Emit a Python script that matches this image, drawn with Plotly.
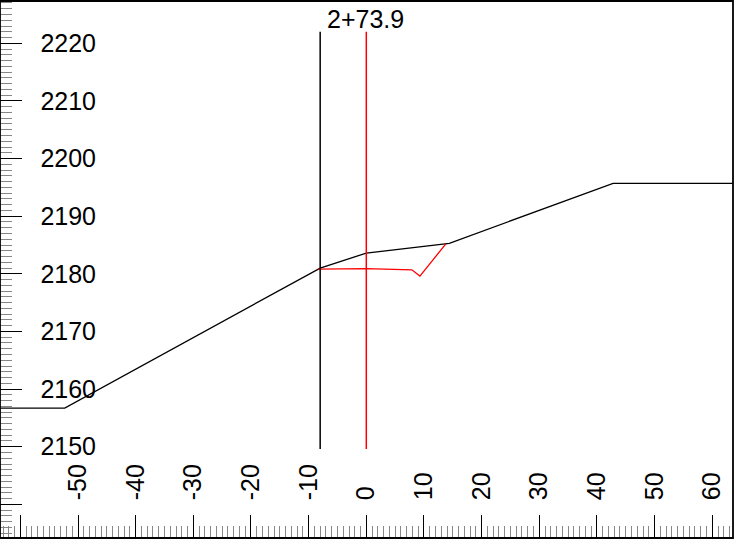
import plotly.graph_objects as go

# ---- data ----
ground_x = [-63.6, -52.3, -8.0, 0.0, 14.4, 42.8, 63.7]
ground_y = [2156.7, 2156.7, 2181.0, 2183.6, 2185.3, 2195.7, 2195.7]

design_x = [-8.4, 0.0, 7.9, 9.3, 13.8]
design_y = [2180.8, 2180.9, 2180.7, 2179.6, 2185.2]

left_marker_x = [-8.0, -8.0]
center_x = [0.0, 0.0]
marker_y = [2149.6, 2222.0]

station_label = "2+73.9"

x_tick_vals = [-60, -50, -40, -30, -20, -10, 0, 10, 20, 30, 40, 50, 60]
x_tick_text = ["", "-50", "-40", "-30", "-20", "-10", "0", "10", "20", "30", "40", "50", "60"]
y_tick_vals = [2140, 2150, 2160, 2170, 2180, 2190, 2200, 2210, 2220]
y_tick_text = ["", "2150", "2160", "2170", "2180", "2190", "2200", "2210", "2220"]

X_RANGE = [-63.53, 63.6]
Y_RANGE = [2134.16, 2227.34]

FONT = "Liberation Sans, Arial, sans-serif"
FS = 25

fig = go.Figure()
fig.add_trace(go.Scatter(x=ground_x, y=ground_y, mode="lines",
                         line=dict(color="black", width=1.3), showlegend=False))
fig.add_trace(go.Scatter(x=design_x, y=design_y, mode="lines",
                         line=dict(color="#ff0000", width=1.3), showlegend=False))
fig.add_trace(go.Scatter(x=left_marker_x, y=marker_y, mode="lines",
                         line=dict(color="black", width=1.5), showlegend=False))
fig.add_trace(go.Scatter(x=center_x, y=marker_y, mode="lines", xaxis="x2", yaxis="y2",
                         line=dict(color="#ff0000", width=1.5), showlegend=False))

fig.add_annotation(x=0, y=marker_y[1], text=station_label, showarrow=False,
                   xanchor="center", yanchor="bottom", yshift=-3, xshift=-1,
                   font=dict(family=FONT, size=FS, color="black"))

# plot frame
fig.add_shape(type="rect", xref="paper", yref="paper", x0=0, x1=1, y0=0, y1=1,
              line=dict(color="black", width=1.8), fillcolor="rgba(0,0,0,0)", layer="above")

fig.update_layout(
    width=746, height=540,
    margin=dict(l=0, r=13, t=1, b=2),
    paper_bgcolor="white", plot_bgcolor="white",
    font=dict(family=FONT, size=FS, color="black"),
    showlegend=False,
    xaxis=dict(
        range=X_RANGE, showgrid=False, zeroline=False, automargin=False,
        showline=False,
        tickmode="array", tickvals=x_tick_vals, showticklabels=False,
        ticks="inside", ticklen=23, tickwidth=1, tickcolor="black",
        minor=dict(ticks="inside", ticklen=12, dtick=1, tickwidth=1,
                   tickcolor="#888888", showgrid=False),
    ),
    yaxis=dict(
        range=Y_RANGE, showgrid=False, zeroline=False, automargin=False,
        showline=False,
        tickmode="array", tickvals=y_tick_vals, ticktext=y_tick_text,
        ticks="inside", ticklen=22, tickwidth=1, tickcolor="black",
        ticklabelposition="outside", ticklabelstandoff=-97,
        ticklabeloverflow="allow",
        tickfont=dict(family=FONT, size=FS, color="black"),
        minor=dict(ticks="inside", ticklen=12, dtick=1, tickwidth=1,
                   tickcolor="#888888", showgrid=False),
    ),
    xaxis2=dict(
        overlaying="x", anchor="y2", side="bottom",
        range=X_RANGE, showgrid=False, zeroline=False, automargin=False,
        showline=False,
        tickmode="array", tickvals=x_tick_vals, ticktext=x_tick_text,
        ticks="inside", ticklen=23, tickcolor="rgba(0,0,0,0)",
        ticklabelposition="inside", tickangle=-90, ticklabelstandoff=8,
        tickfont=dict(family=FONT, size=FS, color="black"),
    ),
    yaxis2=dict(
        overlaying="y", anchor="x2",
        range=Y_RANGE, showgrid=False, zeroline=False, automargin=False,
        showline=False, showticklabels=False, ticks="",
    ),
)

fig.write_html("out.html", config={"displayModeBar": False},
               post_script="document.body.style.margin='0px';")
